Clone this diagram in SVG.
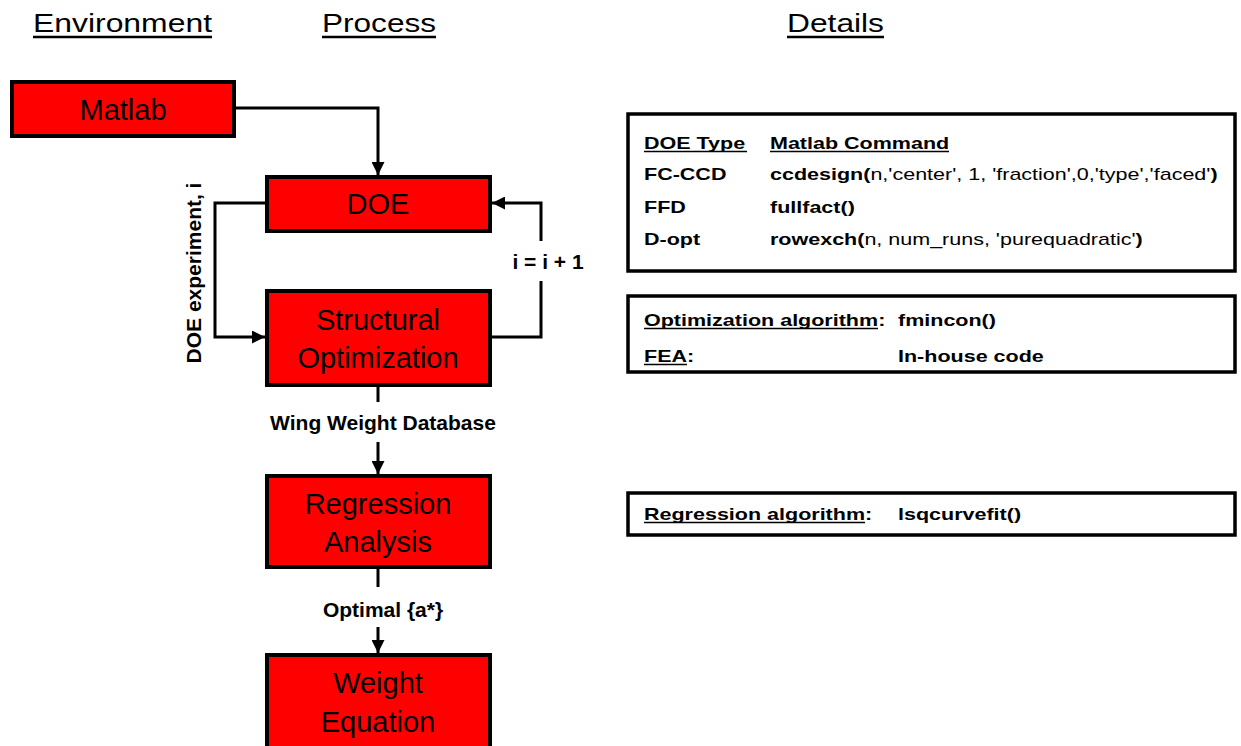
<svg xmlns="http://www.w3.org/2000/svg" width="1241" height="746" viewBox="0 0 1241 746">
<style>
.box{fill:#ff0000;stroke:#000;stroke-width:4}
.bt{font-family:"Liberation Sans",Arial,sans-serif;font-size:29px;fill:#000;text-anchor:middle}
.hd{font-family:"Liberation Sans",Arial,sans-serif;font-size:26px;fill:#000}
.lb{font-family:"Liberation Sans",Arial,sans-serif;font-size:21px;font-weight:bold;fill:#000;text-anchor:middle}
.tb{font-family:"Liberation Sans",Arial,sans-serif;font-size:17px;fill:#000}
.b{font-weight:bold}
.panel{fill:#fff;stroke:#000;stroke-width:3.5}
.ul{stroke:#000;stroke-width:1.7}
.hul{stroke:#000;stroke-width:2.6}
.con{fill:none;stroke:#000;stroke-width:3}
</style>
<defs>
<marker id="arr" markerUnits="userSpaceOnUse" markerWidth="13" markerHeight="13" viewBox="0 0 13 13" refX="13" refY="6.5" orient="auto">
<path d="M0,0 L13,6.5 L0,13 z" fill="#000"/>
</marker>
</defs>
<g id="headers">
<text class="hd" x="33" y="32" textLength="179" lengthAdjust="spacingAndGlyphs">Environment</text>
<line class="hul" x1="33" y1="37" x2="212" y2="37"/>
<text class="hd" x="322" y="32" textLength="114" lengthAdjust="spacingAndGlyphs">Process</text>
<line class="hul" x1="322" y1="37" x2="436" y2="37"/>
<text class="hd" x="787" y="32" textLength="97" lengthAdjust="spacingAndGlyphs">Details</text>
<line class="hul" x1="787" y1="37" x2="884" y2="37"/>
</g>
<g id="connectors">
<path class="con" d="M236,108 H378 V175" marker-end="url(#arr)"/>
<path class="con" d="M265,203 H215 V337 H265" marker-end="url(#arr)"/>
<path class="con" d="M492,337 H541 V281"/>
<path class="con" d="M541,241 V203 H492" marker-end="url(#arr)"/>
<path class="con" d="M378,385 V402"/>
<path class="con" d="M378,442 V474" marker-end="url(#arr)"/>
<path class="con" d="M378,569 V587"/>
<path class="con" d="M378,627 V653" marker-end="url(#arr)"/>
<text class="lb" x="548" y="269">i = i + 1</text>
<text class="lb" transform="translate(201,273) rotate(-90)">DOE experiment, i</text>
<text class="lb" x="383" y="430">Wing Weight Database</text>
<text class="lb" x="383" y="617">Optimal {a*}</text>
</g>
<g id="matlab">
<rect class="box" x="12" y="82" width="222" height="54"/>
<text class="bt" x="123" y="120">Matlab</text>
</g>
<g id="doe">
<rect class="box" x="267" y="177" width="223" height="54"/>
<text class="bt" x="378" y="214">DOE</text>
</g>
<g id="structural">
<rect class="box" x="267" y="291" width="223" height="94"/>
<text class="bt" x="378" y="330">Structural</text>
<text class="bt" x="378" y="368">Optimization</text>
</g>
<g id="regression">
<rect class="box" x="267" y="476" width="223" height="91"/>
<text class="bt" x="378" y="514">Regression</text>
<text class="bt" x="378" y="552">Analysis</text>
</g>
<g id="weight">
<rect class="box" x="267" y="655" width="223" height="100"/>
<text class="bt" x="378" y="693">Weight</text>
<text class="bt" x="378" y="732">Equation</text>
</g>
<g id="doe-table">
<rect class="panel" x="628" y="114" width="607" height="157"/>
<text class="tb b" transform="translate(644,149) scale(1.266,1)">DOE Type</text>
<line class="ul" x1="644" y1="151.5" x2="747" y2="151.5"/>
<text class="tb b" transform="translate(770,149) scale(1.266,1)">Matlab Command</text>
<line class="ul" x1="770" y1="151.5" x2="949" y2="151.5"/>
<text class="tb b" transform="translate(644,180) scale(1.266,1)">FC-CCD</text>
<text class="tb" transform="translate(770,180) scale(1.266,1)"><tspan class="b">ccdesign(</tspan>n,'center', 1, 'fraction',0,'type','faced'<tspan class="b">)</tspan></text>
<text class="tb b" transform="translate(644,212.5) scale(1.266,1)">FFD</text>
<text class="tb b" transform="translate(770,212.5) scale(1.266,1)">fullfact()</text>
<text class="tb b" transform="translate(644,244.5) scale(1.266,1)">D-opt</text>
<text class="tb" transform="translate(770,244.5) scale(1.266,1)"><tspan class="b">rowexch(</tspan>n, num_runs, 'purequadratic'<tspan class="b">)</tspan></text>
</g>
<g id="opt-table">
<rect class="panel" x="628" y="296" width="607" height="76"/>
<text class="tb b" transform="translate(644,326) scale(1.266,1)">Optimization algorithm:</text>
<line class="ul" x1="644" y1="328.5" x2="878" y2="328.5"/>
<text class="tb b" transform="translate(898,326) scale(1.266,1)">fmincon()</text>
<text class="tb b" transform="translate(644,362) scale(1.266,1)">FEA:</text>
<line class="ul" x1="644" y1="364.5" x2="687" y2="364.5"/>
<text class="tb b" transform="translate(898,362) scale(1.266,1)">In-house code</text>
</g>
<g id="reg-table">
<rect class="panel" x="628" y="493" width="607" height="42"/>
<text class="tb b" transform="translate(644,520) scale(1.266,1)">Regression algorithm:</text>
<line class="ul" x1="644" y1="522.5" x2="865" y2="522.5"/>
<text class="tb b" transform="translate(898,520) scale(1.266,1)">lsqcurvefit()</text>
</g>
</svg>
